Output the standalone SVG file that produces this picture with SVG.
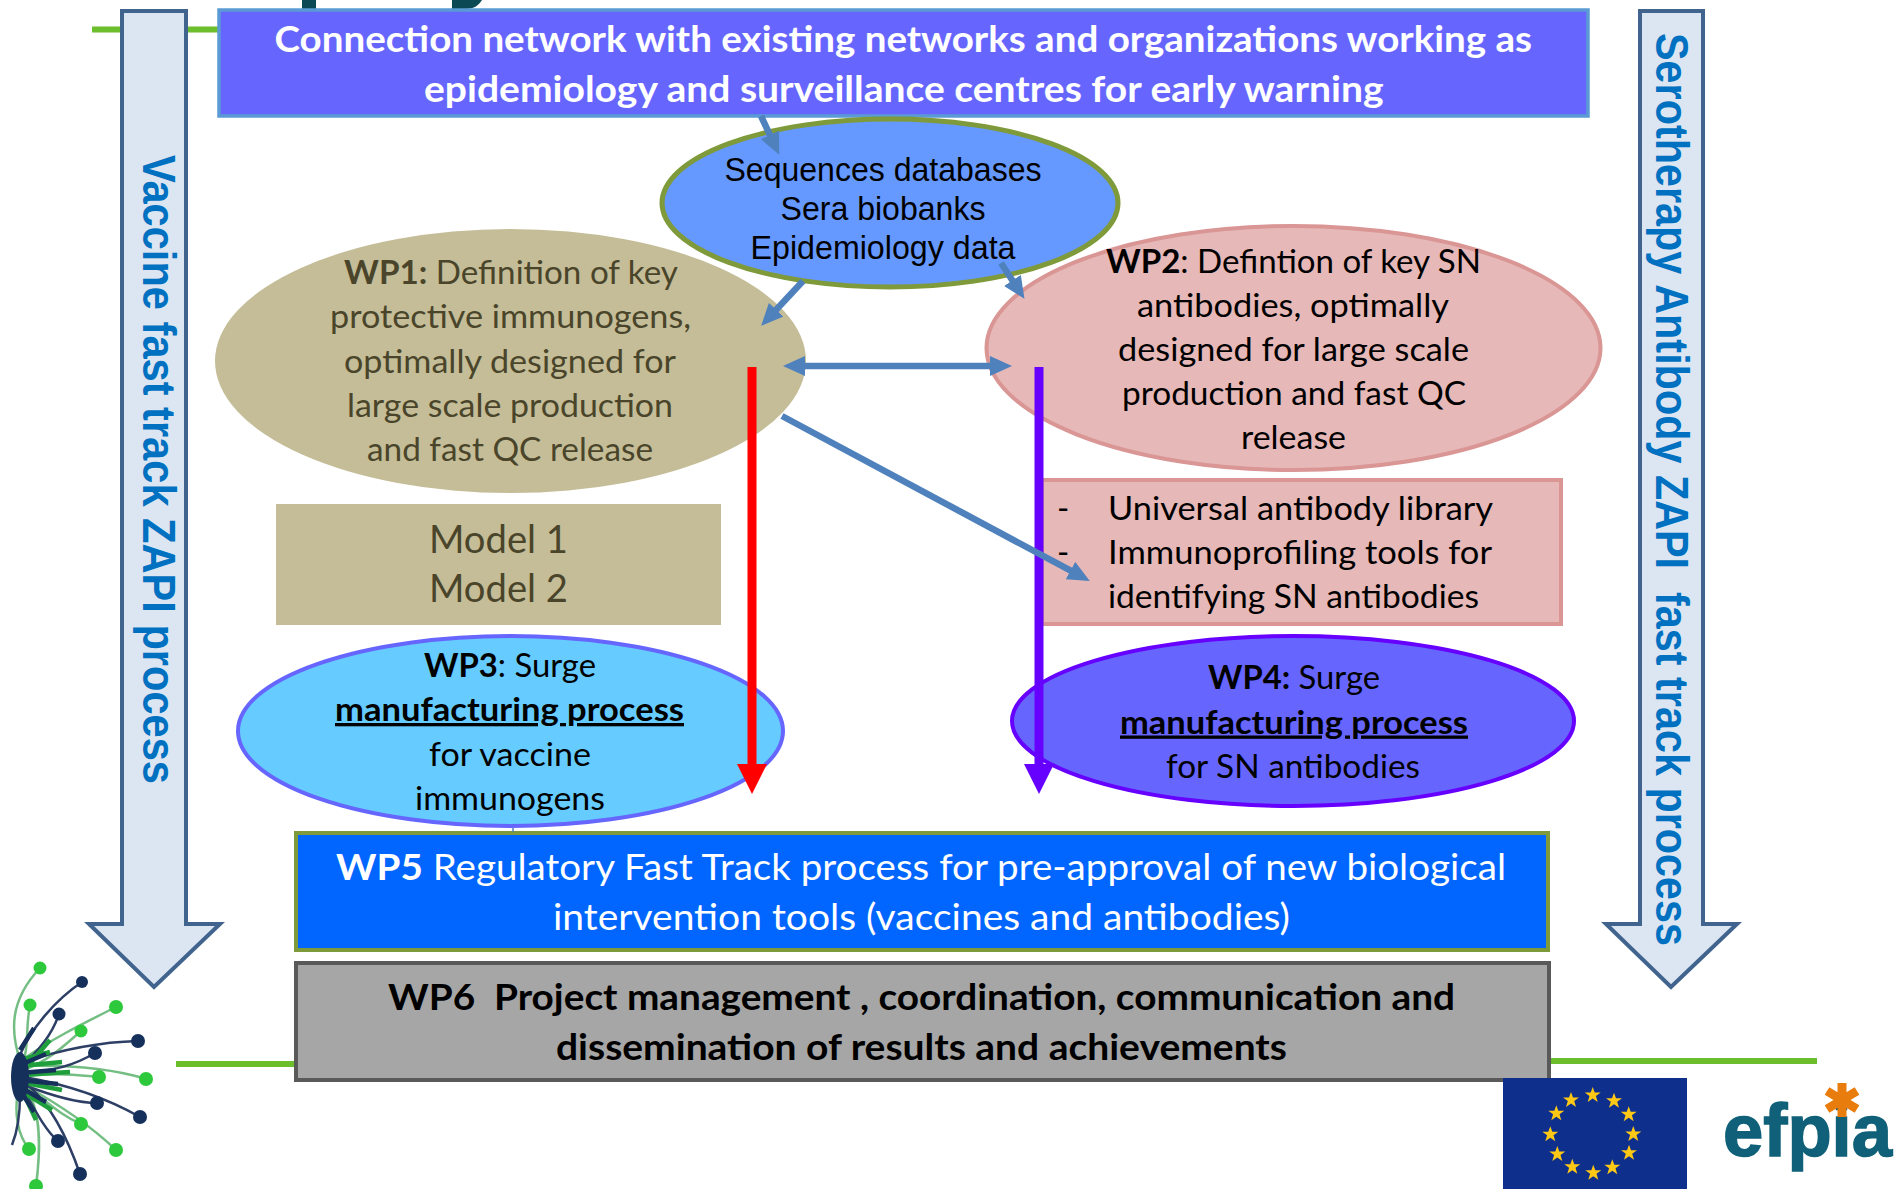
<svg xmlns="http://www.w3.org/2000/svg" width="1898" height="1189" viewBox="0 0 1898 1189">
<style>
text{font-family:"Lato","Liberation Sans",sans-serif;font-size:33px;fill:#000;white-space:pre}
.b{font-weight:700}
.big{font-size:37px}
.model{font-size:39px}
.w{fill:#fff}
.olive{fill:#4A452A}
.arial{font-family:"Liberation Sans",Arial,sans-serif;font-size:33px}
.vert{font-family:"Liberation Sans",Arial,sans-serif;font-weight:700;font-size:46px;fill:#0070C0}
.u{text-decoration:underline}
.band{stroke:#6CBE2D;stroke-width:6;fill:none}
.down{fill:#DCE6F2;stroke:#41648F;stroke-width:4}
.c{fill:none;stroke:#4F81BD;stroke-width:6.500}
.gl{fill:none;stroke:#74BE84;stroke-width:2.500}
.dl{fill:none;stroke:#2E3F66;stroke-width:2.500}
.gn{fill:#2DC83C}
.dn{fill:#16305C}
</style>
<defs>
<marker id="ah" markerUnits="userSpaceOnUse" markerWidth="22" markerHeight="22" refX="12" refY="11" orient="auto-start-reverse"><path d="M0 1L22 11L0 21z" fill="#4F81BD"/></marker>
<marker id="red" markerUnits="userSpaceOnUse" markerWidth="30" markerHeight="30" refX="2" refY="15" orient="auto"><path d="M0 0L30 15L0 30z" fill="#FF0000"/></marker>
<marker id="pur" markerUnits="userSpaceOnUse" markerWidth="30" markerHeight="30" refX="2" refY="15" orient="auto"><path d="M0 0L30 15L0 30z" fill="#6600FF"/></marker>
<path id="star" d="M0-8L2-2.500L8-2.500L3.200 1L5 7L0 3.500L-5 7L-3.200 1L-8-2.500L-2-2.500z" fill="#FFC814"/>
</defs>
<rect width="1898" height="1189" fill="#fff"/>

<g id="title-fragment" fill="#0B4A55">
<rect x="302" y="0" width="14" height="9"/>
<path d="M452 0H482C479 5 474 9 466 9H452z"/>
</g>

<g id="bands">
<path class="band" d="M92 29.500H218"/>
<path class="band" d="M176 1064H296"/>
<path class="band" d="M1550 1061H1817"/>
</g>

<g id="arrow-vaccine">
<path class="down" d="M122 11H186V924H220L154 987L89 924H122z"/>
<text class="vert" transform="translate(143 155) rotate(90)" textLength="629" lengthAdjust="spacingAndGlyphs">Vaccine fast track ZAPI process</text>
</g>
<g id="arrow-serotherapy">
<path class="down" d="M1640 11H1703V924H1737L1671 987L1606 924H1640z"/>
<text class="vert" transform="translate(1656 33) rotate(90)" textLength="913" lengthAdjust="spacingAndGlyphs">Serotherapy Antibody ZAPI  fast track process</text>
</g>

<g id="network">
<rect x="219" y="10" width="1369" height="106" fill="#6666FF" stroke="#5B9BD5" stroke-width="3.500"/>
<text class="big b w" x="274.500" y="52" textLength="1257.500" lengthAdjust="spacingAndGlyphs">Connection network with existing networks and organizations working as</text>
<text class="big b w" x="424" y="101.500" textLength="959.500" lengthAdjust="spacingAndGlyphs">epidemiology and surveillance centres for early warning</text>
</g>

<g id="wp1">
<ellipse cx="510.500" cy="361" rx="295.500" ry="132" fill="#C4BD97"/>
<text class="olive" x="344" y="284" textLength="334" lengthAdjust="spacingAndGlyphs"><tspan class="b">WP1:</tspan> Definition of key</text>
<text class="olive" x="330" y="328" textLength="361" lengthAdjust="spacingAndGlyphs">protective immunogens,</text>
<text class="olive" x="344" y="373" textLength="332" lengthAdjust="spacingAndGlyphs">optimally designed for</text>
<text class="olive" x="347" y="417" textLength="326" lengthAdjust="spacingAndGlyphs">large scale production</text>
<text class="olive" x="367" y="461" textLength="286" lengthAdjust="spacingAndGlyphs">and fast QC release</text>
</g>

<g id="wp2">
<ellipse cx="1293.500" cy="348" rx="307" ry="122" fill="#E6B8B7" stroke="#D99694" stroke-width="4"/>
<text x="1106" y="272.500" textLength="375" lengthAdjust="spacingAndGlyphs"><tspan class="b">WP2</tspan>: Defintion of key SN</text>
<text x="1137" y="316.500" textLength="312" lengthAdjust="spacingAndGlyphs">antibodies, optimally</text>
<text x="1118" y="360.500" textLength="351" lengthAdjust="spacingAndGlyphs">designed for large scale</text>
<text x="1122" y="405" textLength="344" lengthAdjust="spacingAndGlyphs">production and fast QC</text>
<text x="1241" y="449" textLength="105" lengthAdjust="spacingAndGlyphs">release</text>
</g>

<g id="sources">
<ellipse cx="890" cy="203" rx="228" ry="84" fill="#6699FF" stroke="#7F9A3A" stroke-width="5"/>
<text class="arial" x="883" y="181" text-anchor="middle" textLength="317" lengthAdjust="spacingAndGlyphs">Sequences databases</text>
<text class="arial" x="883" y="220" text-anchor="middle" textLength="205" lengthAdjust="spacingAndGlyphs">Sera biobanks</text>
<text class="arial" x="883" y="259" text-anchor="middle" textLength="265" lengthAdjust="spacingAndGlyphs">Epidemiology data</text>
</g>

<g id="models">
<rect x="276" y="504" width="445" height="121" fill="#C4BD97"/>
<text class="model olive" x="429" y="553" textLength="139" lengthAdjust="spacingAndGlyphs">Model 1</text>
<text class="model olive" x="429" y="602" textLength="139" lengthAdjust="spacingAndGlyphs">Model 2</text>
</g>

<g id="library">
<rect x="1042" y="480" width="519" height="144" fill="#E6B8B7" stroke="#D99694" stroke-width="4"/>
<text x="1057" y="520">-</text>
<text x="1108" y="520" textLength="385" lengthAdjust="spacingAndGlyphs">Universal antibody library</text>
<text x="1057" y="564">-</text>
<text x="1108" y="564" textLength="384" lengthAdjust="spacingAndGlyphs">Immunoprofiling tools for</text>
<text x="1108" y="608" textLength="371" lengthAdjust="spacingAndGlyphs">identifying SN antibodies</text>
</g>

<g id="wp3">
<ellipse cx="510.500" cy="731" rx="272.500" ry="95" fill="#66CCFF" stroke="#6666FF" stroke-width="4"/>
<text x="424" y="677" textLength="172" lengthAdjust="spacingAndGlyphs"><tspan class="b">WP3</tspan>: Surge</text>
<text class="b u" x="335" y="721" textLength="349" lengthAdjust="spacingAndGlyphs">manufacturing process</text>
<text x="429" y="765.500" textLength="162" lengthAdjust="spacingAndGlyphs">for vaccine</text>
<text x="415" y="809.500" textLength="190" lengthAdjust="spacingAndGlyphs">immunogens</text>
</g>

<g id="wp4">
<ellipse cx="1293" cy="721" rx="281" ry="85" fill="#6666FF" stroke="#6600FF" stroke-width="4"/>
<text x="1208" y="689" textLength="172" lengthAdjust="spacingAndGlyphs"><tspan class="b">WP4:</tspan> Surge</text>
<text class="b u" x="1120" y="733.500" textLength="348" lengthAdjust="spacingAndGlyphs">manufacturing process</text>
<text x="1166" y="778" textLength="254" lengthAdjust="spacingAndGlyphs">for SN antibodies</text>
</g>

<g id="wp5">
<rect x="296" y="833" width="1252" height="117" fill="#0066FF" stroke="#7F9A3A" stroke-width="4"/>
<text class="big w" x="336" y="880" textLength="1170" lengthAdjust="spacingAndGlyphs"><tspan class="b">WP5</tspan> Regulatory Fast Track process for pre-approval of new biological</text>
<text class="big w" x="553" y="930" textLength="737" lengthAdjust="spacingAndGlyphs">intervention tools (vaccines and antibodies)</text>
</g>

<g id="wp6">
<rect x="296" y="963" width="1253" height="117" fill="#A6A6A6" stroke="#595959" stroke-width="4"/>
<text class="big b" x="388" y="1010" textLength="1067" lengthAdjust="spacingAndGlyphs">WP6  Project management , coordination, communication and</text>
<text class="big b" x="556" y="1060" textLength="731" lengthAdjust="spacingAndGlyphs">dissemination of results and achievements</text>
</g>

<g id="connectors">
<path d="M752 367V766" fill="none" stroke="#FF0000" stroke-width="9" marker-end="url(#red)"/>
<path d="M1039 367V766" fill="none" stroke="#6600FF" stroke-width="9" marker-end="url(#pur)"/>
<path class="c" d="M761 116L775 145.800" marker-end="url(#ah)"/>
<path class="c" d="M803 281L768 318.500" marker-end="url(#ah)"/>
<path class="c" d="M1001 263L1019 290.500" marker-end="url(#ah)"/>
<path class="c" d="M793 366H1002" marker-start="url(#ah)" marker-end="url(#ah)"/>
<path class="c" d="M782 416L1081 576.200" marker-end="url(#ah)"/>
<path d="M513 828V832" stroke="#4F81BD" stroke-width="1.500" fill="none"/>
</g>

<g id="logo-network">
<path class="gl" d="M20 1060C10 1030 10 1000 40 968"/>
<path class="gl" d="M20 1070C30 1050 25 1030 30 1005"/>
<path class="gl" d="M22 1060C50 1040 80 1025 116 1007"/>
<path class="gl" d="M24 1070C50 1060 65 1045 81 1031"/>
<path class="gl" d="M24 1077C50 1072 75 1075 99 1077"/>
<path class="gl" d="M24 1066C70 1065 110 1068 146 1079"/>
<path class="gl" d="M24 1085C45 1100 60 1115 81 1124"/>
<path class="gl" d="M24 1085C60 1105 90 1125 116 1150"/>
<path class="gl" d="M18 1090C14 1115 18 1135 29 1149"/>
<path class="gl" d="M30 1095C42 1120 40 1155 36 1186"/>
<path class="dl" d="M20 1055C30 1030 55 1000 82 982"/>
<path class="dl" d="M22 1065C40 1050 52 1035 59 1014"/>
<path class="dl" d="M24 1062C60 1050 100 1042 138 1041"/>
<path class="dl" d="M24 1072C50 1072 75 1065 95 1053"/>
<path class="dl" d="M24 1085C50 1095 75 1103 97 1103"/>
<path class="dl" d="M24 1077C70 1085 110 1100 140 1117"/>
<path class="dl" d="M24 1090C35 1110 45 1130 58 1141"/>
<path class="dl" d="M30 1087C55 1110 70 1145 80 1174"/>
<path class="dl" d="M20 1095C20 1115 18 1130 12 1145"/>
<path d="M20 1060L50 1052M20 1066L62 1062M20 1075L70 1072M20 1082L62 1090M20 1090L52 1110M20 1075L50 1040M22 1090L36 1120" stroke="#1F9F3C" stroke-width="4.500" fill="none"/>
<path d="M20 1050L34 1028M20 1065L46 1054M20 1073L56 1070M20 1080L58 1084M20 1087L46 1102M20 1090L34 1112" stroke="#16305C" stroke-width="4.500" fill="none"/>
<ellipse cx="20" cy="1077" rx="9" ry="25" class="dn"/>
<circle class="gn" cx="40" cy="968" r="6.500"/><circle class="gn" cx="30" cy="1005" r="6.500"/><circle class="gn" cx="116" cy="1007" r="7"/><circle class="gn" cx="81" cy="1031" r="6.500"/><circle class="gn" cx="99" cy="1077" r="7"/><circle class="gn" cx="146" cy="1079" r="7"/><circle class="gn" cx="81" cy="1124" r="7"/><circle class="gn" cx="116" cy="1150" r="7"/><circle class="gn" cx="29" cy="1149" r="7"/><circle class="gn" cx="36" cy="1186" r="7"/>
<circle class="dn" cx="82" cy="982" r="6"/><circle class="dn" cx="59" cy="1014" r="6.500"/><circle class="dn" cx="138" cy="1041" r="7"/><circle class="dn" cx="95" cy="1053" r="7"/><circle class="dn" cx="97" cy="1103" r="7"/><circle class="dn" cx="140" cy="1117" r="7"/><circle class="dn" cx="58" cy="1141" r="7"/><circle class="dn" cx="80" cy="1174" r="7"/>
</g>

<g id="eu-flag">
<rect x="1503" y="1078" width="184" height="111" fill="#0F2F8C"/>
<use href="#star" x="1592.700" y="1095"/><use href="#star" x="1614" y="1100.700"/><use href="#star" x="1628.700" y="1114.300"/><use href="#star" x="1633.300" y="1134"/><use href="#star" x="1629" y="1152.700"/><use href="#star" x="1612.300" y="1167.300"/><use href="#star" x="1593.300" y="1172.700"/><use href="#star" x="1572.300" y="1166.700"/><use href="#star" x="1557.300" y="1154"/><use href="#star" x="1550.300" y="1134.300"/><use href="#star" x="1556.300" y="1113.300"/><use href="#star" x="1571" y="1100"/>
</g>

<g id="efpia-logo">
<text x="1723" y="1156" textLength="169" lengthAdjust="spacingAndGlyphs" style="font-family:'Liberation Sans',Arial,sans-serif;font-weight:700;font-size:75px;fill:#0F6078;stroke:#0F6078;stroke-width:1.500">efpia</text>
<path d="M1842 1083V1117M1827 1091L1857 1109M1857 1091L1827 1109" stroke="#E87D0E" stroke-width="9" fill="none"/>
</g>
</svg>
